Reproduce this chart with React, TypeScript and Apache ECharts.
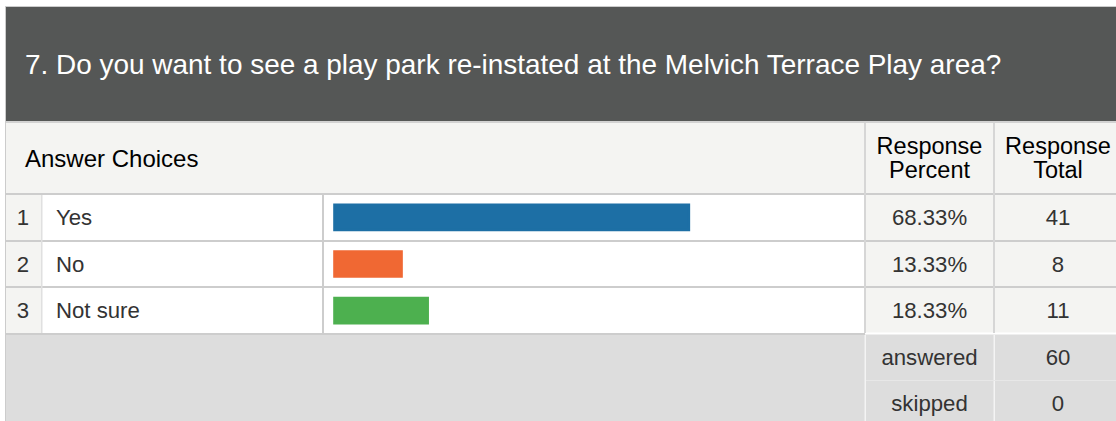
import React, { useEffect, useRef } from "react";
import * as echarts from "echarts";

const title = "7. Do you want to see a play park re-instated at the Melvich Terrace Play area?";
const headerChoices = "Answer Choices";
const headerPercent = "Response\nPercent";
const headerTotal = "Response\nTotal";
const rowNumbers = ["1", "2", "3"];
const categories = ["Yes", "No", "Not sure"];
const percents = [68.33, 13.33, 18.33];
const totals = [41, 8, 11];
const barColors = ["#1d6fa5", "#f06833", "#4db04f"];
const answeredLabel = "answered";
const skippedLabel = "skipped";
const answered = 60;
const skipped = 0;

const FONT = "'Liberation Sans', Arial, Helvetica, sans-serif";
const LINE = "#cdcdcd";
const CELL = "#f4f4f2";
const FOOT = "#dddddd";

const rect = (x: number, y: number, w: number, h: number, fill: string, z = 0) => ({
  type: "rect",
  z,
  silent: true,
  shape: { x, y, width: w, height: h },
  style: { fill },
});

const text = (
  t: string,
  x: number,
  y: number,
  size: number,
  fill: string,
  align: string = "left",
  lineHeight?: number
) => ({
  type: "text",
  z: 10,
  silent: true,
  x,
  y,
  style: {
    text: t,
    fill,
    font: `${size}px ${FONT}`,
    fontSize: size,
    fontFamily: FONT,
    align,
    verticalAlign: "middle",
    lineHeight: lineHeight ?? size * 1.15,
  },
});

export default function App() {
  const ref = useRef<HTMLDivElement>(null);

  useEffect(() => {
    document.body.style.margin = "0";
    if (!ref.current) return;
    const chart = echarts.init(ref.current, undefined, { renderer: "svg" });

    const gridLeft = 333.2;
    const gridWidth = 522.4;
    const gridRight = gridLeft + gridWidth;
    const pctCenter = 929.5;
    const totCenter = 1058;

    const hiddenAxisBits = {
      axisLine: { show: false },
      axisTick: { show: false },
      splitLine: { show: false },
    };

    const labelStyle = (align: string, margin: number) => ({
      interval: 0,
      align,
      margin,
      fontSize: 22.2,
      color: "#333333",
      fontFamily: FONT,
    });

    const option: any = {
      animation: false,
      backgroundColor: "#ffffff",
      textStyle: { fontFamily: FONT },
      grid: {
        left: gridLeft,
        top: 194,
        width: gridWidth,
        height: 140,
        containLabel: false,
        outerBoundsMode: "none",
      },
      xAxis: { type: "value", min: 0, max: 100, show: false },
      yAxis: [
        {
          type: "category",
          data: categories,
          inverse: true,
          position: "left",
          z: 5,
          ...hiddenAxisBits,
          axisLabel: labelStyle("left", gridLeft - 56),
        },
        {
          type: "category",
          data: rowNumbers,
          inverse: true,
          position: "left",
          z: 5,
          ...hiddenAxisBits,
          axisLabel: labelStyle("center", gridLeft - 23),
        },
        {
          type: "category",
          data: percents.map((p) => p.toFixed(2) + "%"),
          inverse: true,
          position: "right",
          z: 5,
          ...hiddenAxisBits,
          axisLabel: labelStyle("center", pctCenter - gridRight),
        },
        {
          type: "category",
          data: totals.map((t) => String(t)),
          inverse: true,
          position: "right",
          z: 5,
          ...hiddenAxisBits,
          axisLabel: labelStyle("center", totCenter - gridRight),
        },
      ],
      series: [
        {
          type: "bar",
          yAxisIndex: 0,
          z: 5,
          barWidth: 27.6,
          silent: true,
          data: percents.map((v, i) => ({
            value: v,
            itemStyle: { color: barColors[i], borderColor: barColors[i], borderWidth: 2.4 },
          })),
        },
      ],
      graphic: {
        elements: [
          // outer borders
          rect(5, 6, 1111, 1, "#cccccc"),
          rect(5, 6, 1, 415, "#cccccc"),
          // dark title band
          rect(6, 7, 1110, 114, "#555756"),
          rect(6, 121, 1110, 2, "#d2d2d2"),
          // header row
          rect(6, 123, 1110, 70, CELL),
          // number column + right columns backgrounds
          rect(6, 195, 35, 138, CELL),
          rect(866, 195, 250, 138, CELL),
          // footer
          rect(6, 333, 1110, 88, FOOT),
          // horizontal row lines
          rect(6, 193, 1110, 2, LINE, 1),
          rect(6, 240, 1110, 2, LINE, 1),
          rect(6, 286, 1110, 2, LINE, 1),
          rect(6, 333, 859, 2, LINE, 1),
          rect(865, 332.5, 251, 2, "#ffffff", 1),
          // vertical lines
          rect(41, 195, 1.5, 138, "#e0e0e0", 1),
          rect(322, 195, 2, 138, LINE, 1),
          rect(864, 123, 2, 210, "#d6d6d6", 1),
          rect(993, 123, 2, 210, "#d6d6d6", 1),
          rect(864.5, 335, 1.5, 86, "#f4f4f4", 1),
          rect(993.5, 335, 1.5, 86, "#f4f4f4", 1),
          rect(866, 380, 250, 1, "#e7e7e7", 1),
          // texts
          text(title, 25, 64, 27.95, "#ffffff"),
          text(headerChoices, 25, 158, 24, "#000000"),
          text(headerPercent, pctCenter, 158, 23.5, "#000000", "center", 24.5),
          text(headerTotal, totCenter, 158, 23.5, "#000000", "center", 24.5),
          text(answeredLabel, pctCenter, 357, 22.2, "#333333", "center"),
          text(String(answered), totCenter, 357, 22.2, "#333333", "center"),
          text(skippedLabel, pctCenter, 403, 22.2, "#333333", "center"),
          text(String(skipped), totCenter, 403, 22.2, "#333333", "center"),
        ],
      },
    };

    chart.setOption(option);
    return () => {
      chart.dispose();
    };
  }, []);

  return <div ref={ref} style={{ width: 1116, height: 421 }} />;
}
